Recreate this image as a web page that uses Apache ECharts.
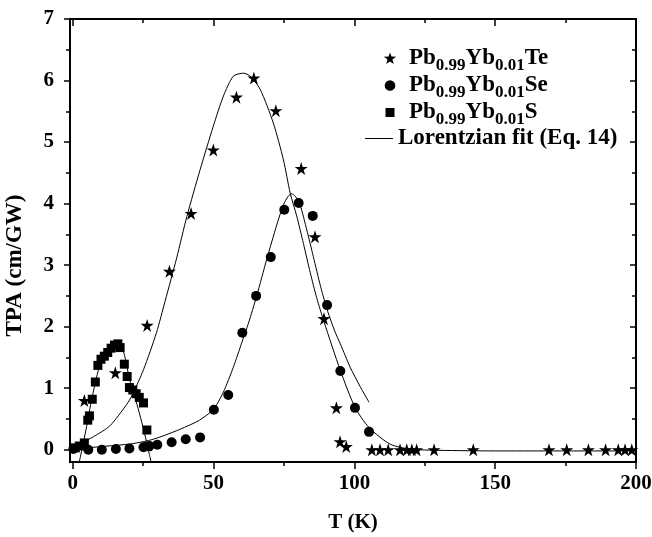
<!DOCTYPE html>
<html>
<head>
<meta charset="utf-8">
<script src="https://cdn.jsdelivr.net/npm/echarts@6/dist/echarts.min.js"></script>
<style>
html,body{margin:0;padding:0;background:#fff;}
#c{width:652px;height:537px;}
</style>
</head>
<body>
<div id="c"></div>
<script>
// ---- Data ----
// Pb0.99Yb0.01Te (stars)
const teT = [4.1, 15.1, 26.4, 34.3, 42.0, 49.9, 58.1, 64.3, 72.1, 81.1, 86.0, 89.2, 93.6, 94.9, 97.1, 106.2, 109.1, 112.0, 116.2, 118.6, 120.4, 122.1, 128.3, 142.2, 169.1, 175.4, 183.1, 189.2, 193.7, 196.1, 198.5];
const teV = [0.80, 1.25, 2.02, 2.90, 3.84, 4.87, 5.73, 6.04, 5.51, 4.57, 3.46, 2.13, 0.68, 0.13, 0.05, 0, 0, 0, 0, 0, 0, 0, 0, 0, 0, 0, 0, 0, 0, 0, 0];
// Pb0.99Yb0.01Se (circles)
const seT = [0.2, 5.5, 10.3, 15.3, 20.1, 25.1, 27.2, 30.0, 35.1, 40.1, 45.2, 50.1, 55.2, 60.2, 65.1, 70.3, 75.1, 80.2, 85.2, 90.3, 95.0, 100.2, 105.2];
const seV = [0.01, 0.00, 0.00, 0.01, 0.02, 0.04, 0.06, 0.08, 0.12, 0.17, 0.20, 0.65, 0.89, 1.90, 2.50, 3.13, 3.90, 4.01, 3.80, 2.35, 1.28, 0.68, 0.29];
// Pb0.99Yb0.01S (squares)
const sT = [0.9, 2.3, 4.1, 5.3, 5.9, 6.9, 8.0, 8.9, 10.0, 11.2, 12.4, 13.6, 14.8, 16.0, 16.8, 18.3, 19.3, 20.1, 21.3, 22.5, 23.6, 25.1, 26.3, 26.6];
const sV = [0.03, 0.06, 0.11, 0.48, 0.55, 0.82, 1.10, 1.37, 1.47, 1.52, 1.58, 1.65, 1.70, 1.72, 1.66, 1.39, 1.19, 1.01, 0.97, 0.91, 0.85, 0.76, 0.32, 0.05];
// Lorentzian fits
const teFitT = [1.5, 2.3, 7.3, 13.2, 19.2, 21.0, 25.1, 29.7, 32.8, 36.9, 40.5, 45.2, 49.9, 53.5, 57.0, 60.6, 63.0, 66.5, 71.2, 74.8, 77.2, 79.5, 81.9, 84.3, 86.6, 89.2, 95.0, 100.2, 105.2, 112.7, 119.8, 130, 150, 170, 200];
const teFitV = [0.05, 0.09, 0.21, 0.39, 0.74, 0.88, 1.30, 1.90, 2.42, 3.12, 3.79, 4.55, 5.26, 5.75, 6.07, 6.12, 6.07, 5.86, 5.31, 4.71, 4.17, 3.80, 3.35, 2.88, 2.47, 2.08, 1.29, 0.69, 0.36, 0.09, 0.01, -0.01, -0.02, -0.02, -0.02];
const seFitT = [0.5, 5, 10, 15, 20, 25, 28.6, 33, 38, 45, 50, 53.5, 57, 60, 62.4, 65.3, 68.9, 72.4, 74.8, 76.5, 77.7, 79, 80.7, 83.1, 85.4, 88, 90.5, 93, 95, 98.5, 102, 105.2];
const seFitV = [0.02, 0.03, 0.05, 0.07, 0.09, 0.13, 0.17, 0.24, 0.33, 0.48, 0.66, 0.94, 1.34, 1.74, 2.06, 2.50, 3.10, 3.65, 3.98, 4.12, 4.16, 4.12, 3.98, 3.57, 3.14, 2.65, 2.25, 1.93, 1.72, 1.34, 1.03, 0.77];
const sFitT = [2.3, 2.9, 4.7, 6.5, 8.0, 9.4, 11.8, 14.2, 15.6, 17.1, 18.7, 20.1, 21.9, 23.6, 25.4, 27.2, 27.8];
const sFitV = [-0.2, -0.07, 0.33, 0.77, 1.09, 1.34, 1.58, 1.72, 1.76, 1.72, 1.47, 1.15, 0.88, 0.60, 0.28, -0.08, -0.2];
// Tick labels
const xMajor = [0, 50, 100, 150, 200];
const xMinor = [25, 75, 125, 175];
const yMajor = [0, 1, 2, 3, 4, 5, 6, 7];
const yMinor = [0.5, 1.5, 2.5, 3.5, 4.5, 5.5, 6.5];
// Names
const nameTe = 'Pb0.99Yb0.01Te', nameSe = 'Pb0.99Yb0.01Se', nameS = 'Pb0.99Yb0.01S', nameFit = 'Lorentzian fit (Eq. 14)';

const pairs = (xs, ys) => xs.map((x, i) => [x, ys[i]]);
const FONT = 'Liberation Serif';
const BLACK = '#000';
const STAR = 'path://M0,-10 L2.245,-3.09 L9.511,-3.09 L3.633,1.18 L5.878,8.09 L0,3.82 L-5.878,8.09 L-3.633,1.18 L-9.511,-3.09 L-2.245,-3.09 Z';
// legend icons drawn inside a fixed 28x12 box (corner points fix the box)
const BOX = 'M0,0 L0.01,0 Z M28,12 L27.99,12 Z ';
const ICON_STAR = 'path://' + BOX + 'M14,0 L15.45,4.1 L20.2,4.2 L16.4,7 L17.8,11.6 L14,8.9 L10.2,11.6 L11.6,7 L7.8,4.2 L12.55,4.1 Z';
const ICON_CIRCLE = 'path://' + BOX + 'M19.3,6 A5.3,5.3 0 1,1 8.7,6 A5.3,5.3 0 1,1 19.3,6 Z';
const ICON_SQUARE = 'path://' + BOX + 'M9.5,1.5 L18.5,1.5 L18.5,10.5 L9.5,10.5 Z';
const ICON_LINE = 'path://' + BOX + 'M0,5.5 L28,5.5 L28,6.6 L0,6.6 Z';

const labelStyle = {color: BLACK, fontFamily: FONT, fontWeight: 'bold', fontSize: 21};
const richStyles = {
  m: {color: BLACK, fontFamily: FONT, fontWeight: 'bold', fontSize: 23},
  s: {color: BLACK, fontFamily: FONT, fontWeight: 'bold', fontSize: 17, padding: [14, 0, 0, 0]}
};
const legendText = {};
legendText[nameTe] = '{m|Pb}{s|0.99}{m|Yb}{s|0.01}{m|Te}';
legendText[nameSe] = '{m|Pb}{s|0.99}{m|Yb}{s|0.01}{m|Se}';
legendText[nameS] = '{m|Pb}{s|0.99}{m|Yb}{s|0.01}{m|S}';
legendText[nameFit] = '{m|Lorentzian fit (Eq. 14)}';

function mkLegend(name, icon, left, top) {
  return {
    data: [{name: name, icon: icon}], left: left, top: top, padding: 0, itemWidth: 28, itemHeight: 12,
    orient: 'vertical', selectedMode: false,
    formatter: n => legendText[n],
    itemStyle: {opacity: 1},
    textStyle: {rich: richStyles, color: BLACK}
  };
}

const gridRect = {left: 70, right: 16, top: 19, bottom: 75, containLabel: false, outerBoundsMode: 'none'};
const axLine = {show: true, onZero: false, lineStyle: {color: BLACK, width: 2}};
const noLine = {show: false, onZero: false};
const tickStyle = {color: BLACK, width: 1.5};

const chart = echarts.init(document.getElementById('c'), null, {renderer: 'canvas'});
chart.setOption({
  animation: false,
  backgroundColor: '#fff',
  grid: [Object.assign({}, gridRect), Object.assign({}, gridRect)],
  legend: [
    mkLegend(nameTe, ICON_STAR, 376, 47),
    mkLegend(nameSe, ICON_CIRCLE, 376, 74),
    mkLegend(nameS, ICON_SQUARE, 376, 101),
    mkLegend(nameFit, ICON_LINE, 365, 127)
  ],
  xAxis: [
    {gridIndex: 0, type: 'value', min: -1, max: 200, position: 'bottom', axisLine: axLine,
     axisTick: {show: true, customValues: xMajor, length: 7, lineStyle: tickStyle},
     axisLabel: Object.assign({customValues: xMajor, margin: 11}, labelStyle),
     splitLine: {show: false},
     name: 'T (K)', nameLocation: 'middle', nameGap: 50,
     nameTextStyle: {color: BLACK, fontFamily: FONT, fontWeight: 'bold', fontSize: 21}},
    {gridIndex: 0, type: 'value', min: -1, max: 200, position: 'top', axisLine: axLine,
     axisTick: {show: true, inside: true, customValues: xMajor, length: 7, lineStyle: tickStyle},
     axisLabel: {show: false}, splitLine: {show: false}},
    {gridIndex: 1, type: 'value', min: -1, max: 200, position: 'bottom', axisLine: noLine,
     axisTick: {show: true, customValues: xMinor, length: 4, lineStyle: tickStyle},
     axisLabel: {show: false}, splitLine: {show: false}},
    {gridIndex: 1, type: 'value', min: -1, max: 200, position: 'top', axisLine: noLine,
     axisTick: {show: true, inside: true, customValues: xMinor, length: 4, lineStyle: tickStyle},
     axisLabel: {show: false}, splitLine: {show: false}}
  ],
  yAxis: [
    {gridIndex: 0, type: 'value', min: -0.2, max: 7, position: 'left', axisLine: axLine,
     axisTick: {show: true, customValues: yMajor, length: 6, lineStyle: tickStyle},
     axisLabel: Object.assign({customValues: yMajor, margin: 16}, labelStyle),
     splitLine: {show: false},
     name: 'TPA (cm/GW)', nameLocation: 'middle', nameGap: 43,
     nameTextStyle: {color: BLACK, fontFamily: FONT, fontWeight: 'bold', fontSize: 23, padding: [0, 50, 0, 0]}},
    {gridIndex: 0, type: 'value', min: -0.2, max: 7, position: 'right', axisLine: axLine,
     axisTick: {show: true, inside: true, customValues: yMajor, length: 6, lineStyle: tickStyle},
     axisLabel: {show: false}, splitLine: {show: false}},
    {gridIndex: 1, type: 'value', min: -0.2, max: 7, position: 'left', axisLine: noLine,
     axisTick: {show: true, customValues: yMinor, length: 4, lineStyle: tickStyle},
     axisLabel: {show: false}, splitLine: {show: false}},
    {gridIndex: 1, type: 'value', min: -0.2, max: 7, position: 'right', axisLine: noLine,
     axisTick: {show: true, inside: true, customValues: yMinor, length: 4, lineStyle: tickStyle},
     axisLabel: {show: false}, splitLine: {show: false}}
  ],
  series: [
    {name: nameFit, type: 'line', xAxisIndex: 0, yAxisIndex: 0, data: pairs(teFitT, teFitV),
     symbol: 'none', smooth: 0.25, lineStyle: {color: BLACK, width: 1}, itemStyle: {color: BLACK}, z: 2},
    {name: nameFit, type: 'line', xAxisIndex: 0, yAxisIndex: 0, data: pairs(seFitT, seFitV),
     symbol: 'none', smooth: 0.25, lineStyle: {color: BLACK, width: 1}, itemStyle: {color: BLACK}, z: 2},
    {name: nameFit, type: 'line', xAxisIndex: 0, yAxisIndex: 0, data: pairs(sFitT, sFitV),
     symbol: 'none', smooth: 0.25, lineStyle: {color: BLACK, width: 1}, itemStyle: {color: BLACK}, z: 2},
    {name: nameTe, type: 'scatter', xAxisIndex: 0, yAxisIndex: 0, data: pairs(teT, teV),
     symbol: STAR, symbolSize: 13, itemStyle: {color: BLACK, opacity: 1}, z: 3},
    {name: nameSe, type: 'scatter', xAxisIndex: 0, yAxisIndex: 0, data: pairs(seT, seV),
     symbol: 'circle', symbolSize: 10, itemStyle: {color: BLACK, opacity: 1}, z: 3},
    {name: nameS, type: 'scatter', xAxisIndex: 0, yAxisIndex: 0, data: pairs(sT, sV),
     symbol: 'rect', symbolSize: 9, itemStyle: {color: BLACK, opacity: 1}, z: 3}
  ]
});
</script>
</body>
</html>
